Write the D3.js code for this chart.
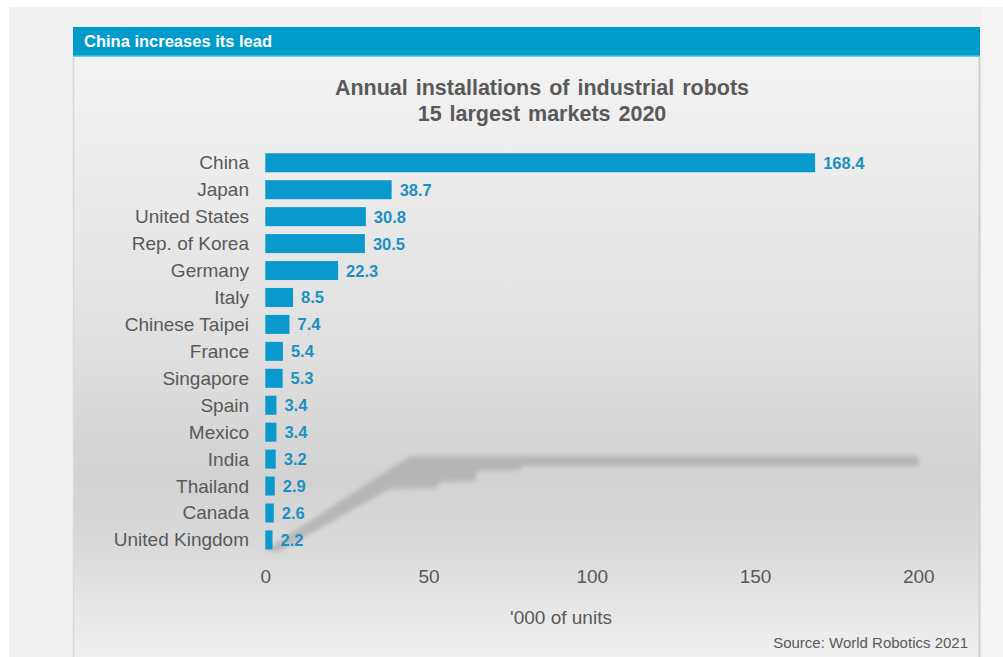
<!DOCTYPE html>
<html>
<head>
<meta charset="utf-8">
<script src="https://cdn.jsdelivr.net/npm/d3@7"></script>
<style>
  html, body { margin: 0; padding: 0; background: #ffffff; }
  svg { display: block; }
</style>
</head>
<body>
<svg id="chart" width="1003" height="657"></svg>
<script>
// Annual installations of industrial robots, 15 largest markets 2020 ('000 of units)
const countries = [
  "China", "Japan", "United States", "Rep. of Korea", "Germany",
  "Italy", "Chinese Taipei", "France", "Singapore", "Spain",
  "Mexico", "India", "Thailand", "Canada", "United Kingdom"
];
const installations = [168.4, 38.7, 30.8, 30.5, 22.3, 8.5, 7.4, 5.4, 5.3, 3.4, 3.4, 3.2, 2.9, 2.6, 2.2];
const xTicks = [0, 50, 100, 150, 200];

const headerText = "China increases its lead";
const titleLines = ["Annual installations of industrial robots", "15 largest markets 2020"];
const axisTitle = "'000 of units";
const sourceText = "Source: World Robotics 2021";

const W = 1003, H = 657;
const panel = { left: 73, right: 980, top: 27, headerBottom: 57 };
const FONT = "'Liberation Sans', Arial, Helvetica, sans-serif";
const GREY_TEXT = "#595959";
const BLUE = "#0a99cc";
const VALUE_BLUE = "#1c90c0";

const svg = d3.select("#chart");
const defs = svg.append("defs");

// Panel body gradient: light at the top, darker around the lower bars, lighter again at the foot
const grad = defs.append("linearGradient")
  .attr("id", "panelFill").attr("x1", 0).attr("y1", 0).attr("x2", 0).attr("y2", 1);
[[0, "#f3f3f3"], [0.2, "#ececec"], [0.5, "#dfdfdf"], [0.7, "#d2d2d2"],
 [0.83, "#dbdbdb"], [0.93, "#e8e8e8"], [1, "#f0f0f0"]]
  .forEach(([o, c]) => grad.append("stop").attr("offset", o).attr("stop-color", c));

const blur = defs.append("filter").attr("id", "softShadow")
  .attr("x", "-5%").attr("y", "-20%").attr("width", "110%").attr("height", "140%");
blur.append("feGaussianBlur").attr("stdDeviation", 2.2);

// Page background
svg.append("rect").attr("x", 9).attr("y", 7).attr("width", W - 9).attr("height", H - 7).attr("fill", "#f1f1f1");
svg.append("rect").attr("x", panel.right + 2).attr("y", 7).attr("width", W - panel.right - 2).attr("height", H - 7).attr("fill", "#f4f4f4");

// Panel body
svg.append("rect")
  .attr("x", panel.left).attr("y", panel.headerBottom)
  .attr("width", panel.right - panel.left).attr("height", H - panel.headerBottom)
  .attr("fill", "url(#panelFill)");
svg.append("line").attr("x1", panel.left + 0.5).attr("x2", panel.left + 0.5)
  .attr("y1", panel.headerBottom).attr("y2", H).attr("stroke", "#d9d9d9").attr("stroke-width", 1.5);
svg.append("line").attr("x1", panel.right - 0.5).attr("x2", panel.right - 0.5)
  .attr("y1", panel.headerBottom).attr("y2", H).attr("stroke", "#cfcfcf").attr("stroke-width", 2);

// Header bar
svg.append("rect")
  .attr("x", panel.left).attr("y", panel.top)
  .attr("width", panel.right - panel.left).attr("height", panel.headerBottom - panel.top)
  .attr("fill", "#009bcb");
svg.append("line").attr("x1", panel.left).attr("x2", panel.right)
  .attr("y1", panel.headerBottom - 0.75).attr("y2", panel.headerBottom - 0.75)
  .attr("stroke", "#62d3ea").attr("stroke-width", 1.5);
svg.append("text")
  .attr("x", 84).attr("y", 47)
  .attr("font-family", FONT).attr("font-weight", "bold").attr("font-size", 16.5)
  .attr("fill", "#ffffff").text(headerText);

// Title
const title = svg.append("text")
  .attr("text-anchor", "middle")
  .attr("font-family", FONT).attr("font-weight", "bold").attr("font-size", 21.5)
  .attr("fill", GREY_TEXT).attr("word-spacing", 2);
titleLines.forEach((t, i) => title.append("tspan").attr("x", 542).attr("y", 95 + i * 26).text(t));

// Scales
const x = d3.scaleLinear().domain([0, 200]).range([265.3, 918.3]);
const y = d3.scaleBand().domain(countries).range([149.3, 553.4]).paddingInner(0.295).paddingOuter(0.1475);

// Floor shadow cast by the bars
const cy = c => y(c) + y.bandwidth() / 2;
const shadowPts = [
  [x(0), cy("United Kingdom") + 10],
  [x(44.3), cy("India") - 3],
  [x(200), cy("India") - 3],
  [x(200), cy("India") + 7],
  [x(79), cy("India") + 7],
  [x(78), cy("India") + 11],
  [x(65), cy("India") + 12],
  [x(64), cy("Thailand") - 5],
  [x(53.5), cy("Thailand") - 4],
  [x(52.5), cy("Thailand") + 2],
  [x(38), cy("Thailand") + 3],
  [x(4), cy("United Kingdom") + 12]
];
svg.append("path")
  .attr("d", d3.line()(shadowPts) + "Z")
  .attr("fill", "#9f9f9f").attr("opacity", 0.55)
  .attr("filter", "url(#softShadow)");

// Bars
const rows = countries.map((c, i) => ({ country: c, value: installations[i] }));
svg.append("g").selectAll("rect").data(rows).join("rect")
  .attr("x", x(0))
  .attr("y", d => y(d.country))
  .attr("width", d => x(d.value) - x(0))
  .attr("height", y.bandwidth())
  .attr("fill", BLUE);

// Category labels
svg.append("g").selectAll("text").data(rows).join("text")
  .attr("x", 249)
  .attr("y", d => cy(d.country) + 6.5)
  .attr("text-anchor", "end")
  .attr("font-family", FONT).attr("font-size", 19)
  .attr("fill", GREY_TEXT)
  .text(d => d.country);

// Value labels
svg.append("g").selectAll("text").data(rows).join("text")
  .attr("x", d => x(d.value) + 8)
  .attr("y", d => cy(d.country) + 6)
  .attr("font-family", FONT).attr("font-weight", "bold").attr("font-size", 16.5)
  .attr("fill", VALUE_BLUE)
  .text(d => d.value.toFixed(1));

// X axis: tick labels only
const xAxis = svg.append("g")
  .attr("transform", "translate(0,565)")
  .call(d3.axisBottom(x).tickValues(xTicks).tickSize(0).tickPadding(0).tickFormat(d3.format("d")));
xAxis.select(".domain").remove();
xAxis.selectAll("text")
  .attr("dy", null).attr("y", 18)
  .attr("font-family", FONT).attr("font-size", 19)
  .attr("fill", GREY_TEXT);

// Axis title and source
svg.append("text")
  .attr("x", 561).attr("y", 624).attr("text-anchor", "middle")
  .attr("font-family", FONT).attr("font-size", 19)
  .attr("fill", GREY_TEXT).text(axisTitle);
svg.append("text")
  .attr("x", 968).attr("y", 648).attr("text-anchor", "end")
  .attr("font-family", FONT).attr("font-size", 15)
  .attr("fill", GREY_TEXT).text(sourceText);
</script>
</body>
</html>
